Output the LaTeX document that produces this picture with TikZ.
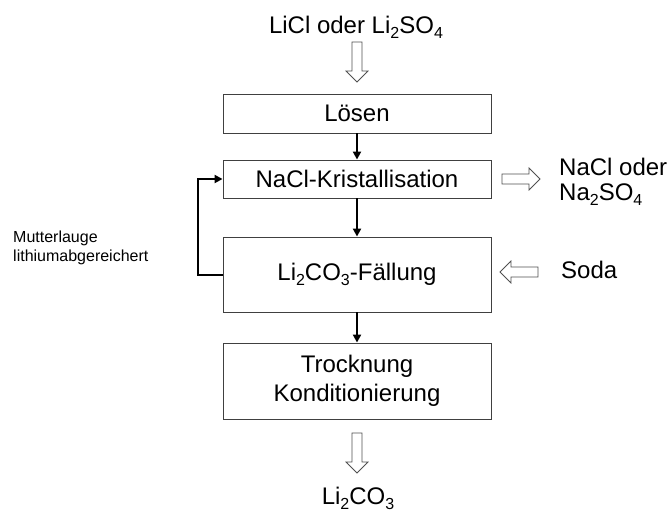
\documentclass[tikz,border=0pt]{standalone}
\usepackage{fontspec}
\setmainfont{Liberation Sans}
\usetikzlibrary{arrows.meta}
\definecolor{boxline}{HTML}{404040}
\definecolor{hollowline}{HTML}{505050}
\newcommand{\chemsub}[1]{\raisebox{-5pt}{\fontsize{16}{16}\selectfont #1}}
\tikzset{
  procbox/.style={draw=boxline, line width=0.9pt, minimum width=268pt, inner sep=0pt, font=\fontsize{24}{29}\selectfont, align=center},
  conn/.style={line width=2pt, -{Triangle[length=8pt,width=8pt]}},
  txt/.style={inner sep=0pt, font=\fontsize{24}{25}\selectfont},
  smalltxt/.style={inner sep=0pt, font=\fontsize{16}{19}\selectfont, align=left},
  hollowstyle/.style={draw=hollowline, line width=0.8pt, fill=white},
  hdown/.pic={\draw[hollowstyle] (-5,0)--(5,0)--(5,29)--(11,29)--(0,40)--(-11,29)--(-5,29)--cycle;},
  hright/.pic={\draw[hollowstyle] (0,-5)--(27,-5)--(27,-11)--(38,0)--(27,11)--(27,5)--(0,5)--cycle;},
  hleft/.pic={\draw[hollowstyle] (0,-5)--(-27,-5)--(-27,-11)--(-38,0)--(-27,11)--(-27,5)--(0,5)--cycle;}
}
\begin{document}
\begin{tikzpicture}[x=1pt,y=-1pt]
\useasboundingbox (0,0) rectangle (669,512);
\node[txt, anchor=base] (input) at (356,33) {LiCl oder Li\chemsub{2}SO\chemsub{4}};
\node[procbox, minimum height=39pt] (loesen) at (357,113.5) {Lösen};
\node[procbox, minimum height=38pt] (nacl) at (357,179) {NaCl-Kristallisation};
\node[procbox, minimum height=75pt] (faell) at (357,274.5) {Li\chemsub{2}CO\chemsub{3}-Fällung};
\node[procbox, minimum height=76pt] (trock) at (357,381) {Trocknung\\Konditionierung};
\node[txt, anchor=west, align=left] (nacl out) at (559,182) {NaCl oder\\Na\chemsub{2}SO\chemsub{4}};
\node[txt, anchor=west] (soda) at (561,270) {Soda};
\node[txt, anchor=base] (product) at (358,504) {Li\chemsub{2}CO\chemsub{3}};
\node[smalltxt, anchor=west] (mutter) at (13,247.5) {Mutterlauge\\lithiumabgereichert};
\draw[conn] (loesen) -- (nacl);
\draw[conn] (nacl) -- (faell);
\draw[conn] (faell) -- (trock);
\draw[conn] (faell.west) -- ++(-25,0) |- (nacl.west);
\pic at (357,42) {hdown};
\pic at (357,433) {hdown};
\pic at (502,179) {hright};
\pic at (538,272) {hleft};
\end{tikzpicture}
\end{document}
